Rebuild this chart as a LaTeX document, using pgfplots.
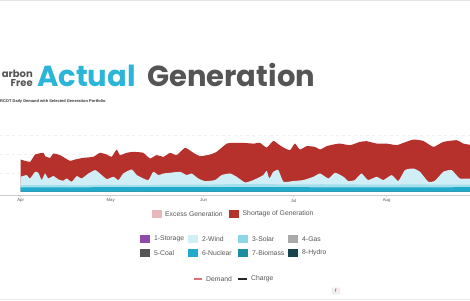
\documentclass[border=0pt]{standalone}
\usepackage{pgfplots}
\pgfplotsset{compat=1.18}
\usepackage{fontspec}
\setmainfont{Liberation Sans}
\newfontfamily\poppins{Poppins}
\definecolor{shortc}{HTML}{B7312C}
\definecolor{excessc}{HTML}{E6B8BB}
\definecolor{windc}{HTML}{D0EEF6}
\definecolor{solarc}{HTML}{A4DFEC}
\definecolor{solarleg}{HTML}{8CD6E8}
\definecolor{nucc}{HTML}{22AACD}
\definecolor{storc}{HTML}{8E4BAB}
\definecolor{gasc}{HTML}{AAAAAA}
\definecolor{coalc}{HTML}{555555}
\definecolor{bioc}{HTML}{1C8E9F}
\definecolor{hydroc}{HTML}{17434A}
\definecolor{demc}{HTML}{E07070}
\definecolor{txtc}{HTML}{555555}
\definecolor{actc}{HTML}{2BB5D9}
\begin{document}
\begin{tikzpicture}[x=1pt,y=1pt]
\path[use as bounding box] (0,0) rectangle (470,300);
\clip (0,0) rectangle (470,300);
\fill[white] (0,0) rectangle (470,300);
\fill[gray!20] (0,298.6) rectangle (470,300);
\fill[gray!15] (0,0) rectangle (470,1.2);
% titles
\node[anchor=base east, inner sep=0, text=txtc, font=\poppins\bfseries\fontsize{10}{10}\selectfont] at (33,222.5) {arbon};
\node[anchor=base east, inner sep=0, text=txtc, font=\poppins\bfseries\fontsize{10}{10}\selectfont] at (33,213.5) {Free};
\node[anchor=base west, inner sep=0, text=actc, font=\poppins\bfseries\fontsize{29}{29}\selectfont] at (37,213) {Actual};
\node[anchor=base west, inner sep=0, text=txtc, font=\poppins\bfseries\fontsize{29}{29}\selectfont] at (147,213) {Generation};
\node[anchor=base west, inner sep=0, text=black!80, font=\bfseries\fontsize{4}{4}\selectfont] at (0,197.5) {RCOT Daily Demand with Selected Generation Portfolio};
\begin{axis}[
  at={(0pt,105pt)}, anchor=south west,
  scale only axis, width=470pt, height=83pt,
  xmin=-6.9, xmax=149.8, ymin=-3.3, ymax=80,
  axis line style={draw=none},
  xtick={0,30,61,91,122},
  xticklabels={Apr,May,Jun,Jul,Aug},
  x tick label style={font=\fontsize{4.3}{5}\selectfont, text=txtc, yshift=1pt},
  xtick pos=bottom, tick align=outside, major tick length=1.5pt,
  xtick style={draw=gray!40, line width=0.4pt},
  ytick={19,38,57}, yticklabels={}, ytick style={draw=none},
  ymajorgrids, grid style={dashed, gray!12, line width=0.3pt},
  clip=true,
]
\addplot[fill=shortc, draw=none, smooth, tension=0.3] coordinates {
(0,32.3)(3.1,30.0)(4.8,37.3)(7.6,39.0)(8.1,35.7)(9.8,34.0)(10.9,38.3)(13.1,36.7)
(16.4,31.0)(18.1,32.3)(20.9,34.0)(24.2,35.0)(26.4,39.0)(28.7,37.3)(30.3,35.0)(32.0,42.3)
(33.1,36.7)(35.3,39.0)(37.6,40.0)(40.9,39.0)(43.1,33.3)(45.3,36.7)(47.6,35.0)(49.8,39.0)
(52.0,36.7)(54.8,44.0)(57.6,39.0)(59.8,35.7)(63.1,37.3)(65.3,40.0)(68.7,48.3)(70.9,49.0)
(74.2,49.0)(77.6,48.3)(79.8,49.0)(82.0,44.3)(84.2,51.0)(85.9,47.7)(87.6,44.3)(89.8,41.7)
(91.4,48.3)(93.1,42.3)(95.3,45.7)(98.1,45.0)(99.8,42.3)(102.0,45.7)(104.2,47.3)(106.4,48.3)
(109.8,46.7)(113.1,50.0)(115.3,50.7)(118.7,48.3)(122.0,48.3)(125.3,46.7)(127.6,49.0)(130.9,52.3)
(134.2,51.0)(137.6,45.0)(140.9,50.0)(145.3,51.7)(147.6,48.3)(150.5,46.7)} \closedcycle;
\addplot[fill=windc, draw=none, smooth, tension=0.3] coordinates {
(0,15.0)(2.0,16.7)(3.1,13.3)(4.8,20.0)(5.9,19.0)(7.0,11.7)(8.1,18.3)(9.2,13.3)(10.9,15.7)
(12.6,12.3)(14.2,11.0)(15.3,13.3)(17.0,10.0)(18.7,15.7)(20.3,13.3)(22.6,18.3)(24.8,21.7)
(26.4,18.3)(28.7,12.7)(30.9,15.0)(32.6,11.7)(34.2,18.3)(37.0,22.3)(38.7,16.7)(40.9,13.3)
(42.6,11.7)(44.2,20.0)(45.9,16.7)(47.6,18.3)(49.8,19.0)(53.1,20.0)(55.3,16.7)(57.0,18.3)
(59.2,13.3)(61.4,10.7)(64.8,11.7)(67.0,16.7)(69.8,18.3)(72.0,15.0)(74.8,9.3)(77.6,11.7)
(80.9,16.7)(82.0,21.0)(82.9,13.3)(84.2,20.0)(85.9,21.7)(87.6,10.0)(90.9,10.7)(94.2,11.7)
(97.6,15.0)(99.8,18.3)(102.6,13.3)(104.8,19.0)(107.6,15.0)(109.2,10.7)(111.4,11.7)(113.6,18.3)
(115.8,11.7)(118.7,15.0)(120.9,11.7)(123.7,16.7)(125.9,10.7)(128.1,21.7)(130.9,23.3)(133.1,20.0)
(135.9,10.0)(138.1,11.0)(140.9,20.0)(143.7,21.7)(146.4,13.3)(150.5,13.3)} \closedcycle;
\addplot[fill=solarc, draw=none] coordinates {
(0,6.5)(10,6.8)(20,6.3)(30,7.0)(40,6.6)(50,7.2)(60,7.0)(70,7.6)(80,7.8)(90,7.2)
(100,7.5)(110,7.3)(120,7.0)(130,7.4)(140,7.1)(150.5,7.0)} \closedcycle;
\addplot[fill=nucc, draw=none] coordinates {
(0,4.4)(30,4.5)(60,4.6)(90,4.5)(120,4.4)(150.5,4.5)} \closedcycle;
\addplot[fill=bioc, draw=none] coordinates {
(0,0.7)(60,0.7)(120,0.7)(150.5,0.7)} \closedcycle;
\draw[gray!40, line width=0.8pt] (rel axis cs:0,0) -- (rel axis cs:1,0);
\end{axis}
% legends
\begin{scope}[every node/.style={anchor=west, inner sep=0, text=txtc, font=\fontsize{6.8}{7}\selectfont}]
\fill[excessc] (152,82) rectangle (162,90); \node at (165,86) {Excess Generation};
\fill[shortc] (229,82) rectangle (239,90); \node at (242.5,86) {Shortage of Generation};
\fill[storc] (140,57) rectangle (150,65); \node at (154,61) {1-Storage};
\fill[windc] (188,57) rectangle (198,65); \node at (202,61) {2-Wind};
\fill[solarleg] (238,57) rectangle (248,65); \node at (252,61) {3-Solar};
\fill[gasc] (288,57) rectangle (298,65); \node at (302,61) {4-Gas};
\fill[coalc] (140,43) rectangle (150,51); \node at (154,47) {5-Coal};
\fill[nucc] (188,43) rectangle (198,51); \node at (202,47) {6-Nuclear};
\fill[bioc] (238,43) rectangle (248,51); \node at (252,47) {7-Biomass};
\fill[hydroc] (288,43) rectangle (298,51); \node at (302,47) {8-Hydro};
\draw[demc, line width=1.4pt] (194,21) -- (202,21); \node at (206,21) {Demand};
\draw[black!85, line width=1.4pt] (238,21) -- (247,21); \node at (251,21) {Charge};
\end{scope}
\fill[gray!12, rounded corners=0.8pt] (331.5,5.5) rectangle (340,12.5);
\node[inner sep=0, text=red!70, font=\bfseries\fontsize{5}{5}\selectfont] at (335.8,9) {f};
\end{tikzpicture}
\end{document}
